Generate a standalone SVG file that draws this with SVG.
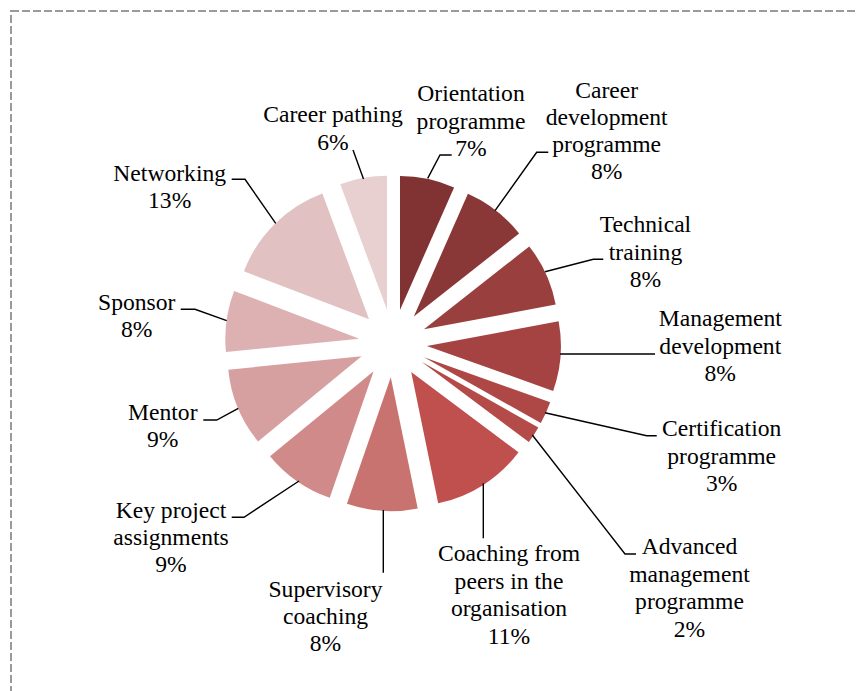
<svg xmlns="http://www.w3.org/2000/svg" width="857" height="691" viewBox="0 0 857 691">
<style>
text{font-family:"Liberation Serif","Times New Roman",serif;font-size:23.6px;fill:#000;text-anchor:middle}
.lead{fill:none;stroke:#000;stroke-width:1.4}
</style>
<rect width="857" height="691" fill="#fff"/>
<rect id="frame" x="11" y="11" width="900" height="800" fill="none" stroke="#9a9a9a" stroke-width="2" stroke-dasharray="8,3"/>
<g id="pie" transform="translate(393,343.3)">
<g id="s-orientation"><path transform="rotate(11.9)" fill="#813233" d="M0,-34L-27.63,-165.12A134,134 0 0 1 27.63,-165.12Z"/></g>
<g id="s-careerdev"><path transform="rotate(37.8)" fill="#8a3737" d="M0,-34L-32.42,-164.02A134,134 0 0 1 32.42,-164.02Z"/></g>
<g id="s-technical"><path transform="rotate(65.6)" fill="#993f3e" d="M0,-34L-31.96,-164.13A134,134 0 0 1 31.96,-164.13Z"/></g>
<g id="s-management"><path transform="rotate(94.5)" fill="#a54342" d="M0,-34L-34.91,-163.38A134,134 0 0 1 34.91,-163.38Z"/></g>
<g id="s-certification"><path transform="rotate(114.45)" fill="#ad4846" d="M0,-34L-11.33,-167.52A134,134 0 0 1 11.33,-167.52Z"/></g>
<g id="s-advanced"><path transform="rotate(123.05)" fill="#b44b48" d="M0,-34L-8.76,-167.71A134,134 0 0 1 8.76,-167.71Z"/></g>
<g id="s-coaching"><path transform="rotate(147.6)" fill="#c0504d" d="M0,-34L-47.58,-159.27A134,134 0 0 1 47.58,-159.27Z"/></g>
<g id="s-supervisory"><path transform="rotate(183.75)" fill="#c87370" d="M0,-34L-35.47,-163.22A134,134 0 0 1 35.47,-163.22Z"/></g>
<g id="s-keyproject"><path transform="rotate(214.85)" fill="#d08a89" d="M0,-34L-36.37,-162.98A134,134 0 0 1 36.37,-162.98Z"/></g>
<g id="s-mentor"><path transform="rotate(247.45)" fill="#d6a0a0" d="M0,-34L-38.84,-162.25A134,134 0 0 1 38.84,-162.25Z"/></g>
<g id="s-sponsor"><path transform="rotate(277.6)" fill="#ddb1b1" d="M0,-34L-30.83,-164.41A134,134 0 0 1 30.83,-164.41Z"/></g>
<g id="s-networking"><path transform="rotate(315.25)" fill="#e2c1c2" d="M0,-34L-55.25,-156.08A134,134 0 0 1 55.25,-156.08Z"/></g>
<g id="s-careerpathing"><path transform="rotate(349.8)" fill="#e8d0d1" d="M0,-34L-23.73,-165.88A134,134 0 0 1 23.73,-165.88Z"/></g>
</g>
<g id="connectors">
<polyline class="lead" points="353,150 363.5,179"/>
<polyline class="lead" points="427.7,178.3 440,155 451.7,155"/>
<polyline class="lead" points="495,210.7 536.7,152.3 548.3,152.3"/>
<polyline class="lead" points="545,271.7 593.3,259.3 603.3,259.3"/>
<polyline class="lead" points="560,354 655,354"/>
<polyline class="lead" points="545,412.7 646.7,435.7 656.7,435.7"/>
<polyline class="lead" points="532.3,435 625,554 636,554"/>
<polyline class="lead" points="483.3,483.3 483.3,538.3"/>
<polyline class="lead" points="383.3,510 383.3,572.7"/>
<polyline class="lead" points="299,481 244,517.3 231.7,517.3"/>
<polyline class="lead" points="238.3,408.3 216.7,420 203.3,420"/>
<polyline class="lead" points="226.7,320.7 195,309.3 180.7,309.3"/>
<polyline class="lead" points="275.7,223.3 245,179.3 231.7,179.3"/>
</g>
<g id="l-careerpathing"><text x="333" y="122">Career pathing</text><text x="333" y="149.5">6%</text></g>
<g id="l-orientation"><text x="471" y="101">Orientation</text><text x="471" y="128.5">programme</text><text x="471" y="156">7%</text></g>
<g id="l-careerdev"><text x="606.7" y="98">Career</text><text x="606.7" y="125">development</text><text x="606.7" y="152">programme</text><text x="606.7" y="179">8%</text></g>
<g id="l-technical"><text x="645.5" y="232">Technical</text><text x="645.5" y="259.5">training</text><text x="645.5" y="287">8%</text></g>
<g id="l-management"><text x="720.3" y="326">Management</text><text x="720.3" y="353.5">development</text><text x="720.3" y="381">8%</text></g>
<g id="l-certification"><text x="721.7" y="436">Certification</text><text x="721.7" y="463.5">programme</text><text x="721.7" y="491">3%</text></g>
<g id="l-advanced"><text x="689.5" y="554">Advanced</text><text x="689.5" y="581.5">management</text><text x="689.5" y="609">programme</text><text x="689.5" y="636.5">2%</text></g>
<g id="l-coaching"><text x="509" y="561">Coaching from</text><text x="509" y="588.5">peers in the</text><text x="509" y="616">organisation</text><text x="509" y="643.5">11%</text></g>
<g id="l-supervisory"><text x="325.5" y="597">Supervisory</text><text x="325.5" y="624">coaching</text><text x="325.5" y="651">8%</text></g>
<g id="l-keyproject"><text x="171" y="517.5">Key project</text><text x="171" y="545">assignments</text><text x="171" y="572">9%</text></g>
<g id="l-mentor"><text x="162.8" y="419.5">Mentor</text><text x="162.8" y="447">9%</text></g>
<g id="l-sponsor"><text x="136.7" y="309.5">Sponsor</text><text x="136.7" y="337">8%</text></g>
<g id="l-networking"><text x="169.7" y="181">Networking</text><text x="169.7" y="208">13%</text></g>
</svg>
